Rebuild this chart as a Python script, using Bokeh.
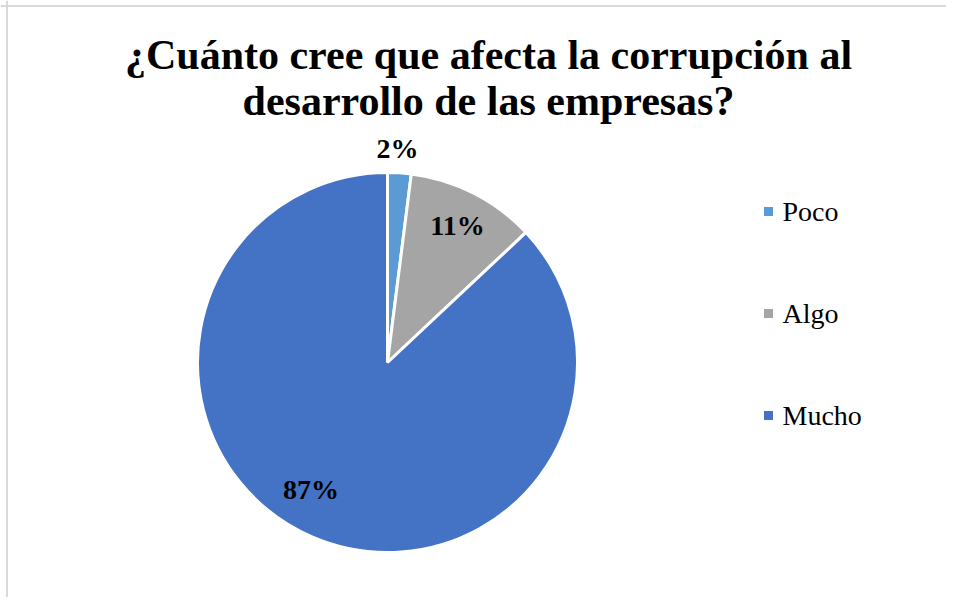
import numpy as np
from bokeh.plotting import figure
from bokeh.models import Span, ColumnDataSource
from bokeh.core.properties import value
from bokeh.embed import file_html
from bokeh.resources import INLINE

# ---- data ----
title_lines = ["¿Cuánto cree que afecta la corrupción al", "desarrollo de las empresas?"]
categories = ["Poco", "Algo", "Mucho"]
percents = [2, 11, 87]
colors = ["#5B9BD5", "#A5A5A5", "#4472C4"]

# ---- layout (pixels) ----
W, H = 946, 597
CX, CY, R = 387, 235, 190
label_r = [212, 152, 150]
label_shift_deg = [-0.9, 0.4, 7.3]   # clockwise shift of label from slice mid-angle
legend_x, legend_y0, legend_dy = 768, 386, 102
SERIF = "Liberation Serif"

p = figure(width=W, height=H, x_range=(0, W), y_range=(0, H),
           output_backend="svg", toolbar_location=None, min_border=0,
           x_axis_location=None, y_axis_location=None)
p.grid.visible = False
p.outline_line_color = None
p.background_fill_color = "white"
p.border_fill_color = "white"

# frame lines (left and top only visible in reference)
p.add_layout(Span(location=6.5, dimension="height", line_color="#D9D9D9", line_width=2))
p.add_layout(Span(location=H - 5.5, dimension="width", line_color="#D9D9D9", line_width=2))

vals = np.array(percents, dtype=float)
frac = vals / vals.sum()
cum = np.cumsum(frac)
start = np.pi / 2 - 2 * np.pi * (cum - frac)
end = np.pi / 2 - 2 * np.pi * cum
mid = (start + end) / 2 - np.radians(label_shift_deg)

src = ColumnDataSource(dict(cat=categories, start=start, end=end, color=colors,
                            lx=CX + np.array(label_r) * np.cos(mid),
                            ly=CY + np.array(label_r) * np.sin(mid) + 2,
                            lab=[f"{v}%" for v in percents]))

p.wedge(x=CX, y=CY, radius=R, start_angle="start", end_angle="end", direction="clock",
        fill_color="color", line_color="white", line_width=3, source=src)

p.text(x="lx", y="ly", text="lab", source=src, text_align="center", text_baseline="middle",
       text_font=value(SERIF), text_font_style="bold", text_font_size="28px", text_color="black")

# title
p.text(x=[488, 488], y=[543, 497], text=title_lines, text_align="center",
       text_baseline="alphabetic", text_font=value(SERIF), text_font_style="bold",
       text_font_size="42px", text_color="black")

# legend
ly = [legend_y0 - i * legend_dy for i in range(len(categories))]
p.scatter(x=[legend_x] * len(categories), y=ly, marker="square", size=9,
          fill_color=colors, line_color=None)
p.text(x=[legend_x + 14] * len(categories), y=ly, text=categories, text_align="left",
       text_baseline="middle", text_font=value(SERIF), text_font_size="28px", text_color="black")

open("out.html", "w").write(file_html(p, INLINE))
